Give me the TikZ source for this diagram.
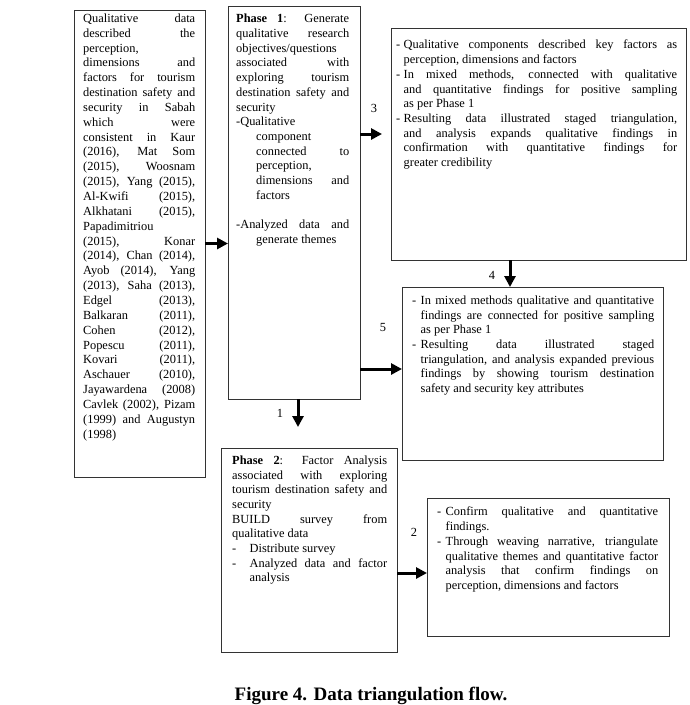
\documentclass[tikz,border=0pt]{standalone}
\usepackage{fontspec}
\setmainfont{Liberation Serif}
\usetikzlibrary{positioning,arrows.meta}
\tolerance=10000
\hbadness=10000
\hyphenpenalty=10000
\exhyphenpenalty=10000
\newcommand{\dashitem}[1]{\hangindent=#1\hangafter=1\noindent\makebox[#1][l]{-}\ignorespaces}
\newcommand{\hangpar}[1]{\hangindent=#1\hangafter=1\noindent\ignorespaces}

\begin{document}
\begin{tikzpicture}[x=1pt, y=-1pt,
		box/.style={draw=black!80, line width=1pt, inner sep=0pt, outer sep=0pt, anchor=north west},
		txt/.style={inner sep=0pt, anchor=north west, align=justify, font=\fontsize{12.4}{14.7}\selectfont},
		flow/.style={line width=3pt, -{Triangle[length=11pt,width=11pt]}},
		lbl/.style={inner sep=0pt, font=\fontsize{12.4}{14.7}\selectfont}]
		%%%%% START %%%%%
		
		\useasboundingbox (0,0) rectangle (689,705);
		
		\node[box, minimum width=131pt, minimum height=467pt] (lit) at (74,10) {};
		\node[box, minimum width=132pt, minimum height=393pt] (ph1) at (228,6) {};
		\node[box, minimum width=295pt, minimum height=232pt] (res) at (391,28) {};
		\node[box, minimum width=261pt, minimum height=173pt] (mix) at (402,287) {};
		\node[box, minimum width=176pt, minimum height=204pt] (ph2) at (221,448) {};
		\node[box, minimum width=242pt, minimum height=138pt] (conf) at (427,498) {};
		
		\node[txt, text width=112pt, font=\fontsize{12.4}{14.85}\selectfont, below right=3.5pt and 9pt of lit.north west] (litT) {Qualitative data\linebreak described the\linebreak perception,\linebreak dimensions and\linebreak factors for tourism\linebreak destination safety and\linebreak security in Sabah\linebreak which were\linebreak consistent in Kaur\linebreak (2016), Mat Som\linebreak (2015), Woosnam\linebreak (2015), Yang (2015),\linebreak Al-Kwifi (2015),\linebreak Alkhatani (2015),\linebreak Papadimitriou\linebreak (2015), Konar\linebreak (2014), Chan (2014),\linebreak Ayob (2014), Yang\linebreak (2013), Saha (2013),\linebreak Edgel (2013),\linebreak Balkaran (2011),\linebreak Cohen (2012),\linebreak Popescu (2011),\linebreak Kovari (2011),\linebreak Aschauer (2010),\linebreak Jayawardena (2008)\linebreak Cavlek (2002), Pizam\linebreak (1999) and Augustyn\linebreak (1998)\par};
		
		\node[txt, text width=113pt, below right=8pt and 8pt of ph1.north west] (ph1T) {\textbf{Phase 1}: Generate\linebreak qualitative research\linebreak objectives/questions\linebreak associated with\linebreak exploring tourism\linebreak destination safety and\linebreak security
			\par\hangpar{20pt}-Qualitative\linebreak component\linebreak connected to\linebreak perception,\linebreak dimensions and\linebreak factors
			\par\vspace{14.7pt}
			\hangpar{20pt}-Analyzed data and\linebreak generate themes\par};
		
		\node[txt, text width=281pt, below right=12pt and 5pt of res.north west] (resT) {\dashitem{7.5pt}Qualitative components described key factors as\linebreak perception, dimensions and factors
			\par\dashitem{7.5pt}In mixed methods, connected with qualitative\linebreak and quantitative findings for positive sampling\linebreak as per Phase 1
			\par\dashitem{7.5pt}Resulting data illustrated staged triangulation,\linebreak and analysis expands qualitative findings in\linebreak confirmation with quantitative findings for\linebreak greater credibility\par};
		
		\node[txt, text width=242pt, below right=8.5pt and 10pt of mix.north west] (mixT) {\dashitem{8.5pt}In mixed methods qualitative and quantitative\linebreak findings are connected for positive sampling\linebreak as per Phase 1
			\par\dashitem{8.5pt}Resulting data illustrated staged\linebreak triangulation, and analysis expanded previous\linebreak findings by showing tourism destination\linebreak safety and security key attributes\par};
		
		\node[txt, text width=155pt, below right=7.5pt and 11pt of ph2.north west] (ph2T) {\textbf{Phase 2}: Factor Analysis\linebreak associated with exploring\linebreak tourism destination safety and\linebreak security
			\par BUILD survey from\linebreak qualitative data
			\par\dashitem{17.5pt}Distribute survey
			\par\dashitem{17.5pt}Analyzed data and factor\linebreak analysis\par};
		
		\node[txt, text width=221pt, below right=9pt and 10pt of conf.north west] (confT) {\dashitem{8.5pt}Confirm qualitative and quantitative\linebreak findings.
			\par\dashitem{8.5pt}Through weaving narrative, triangulate\linebreak qualitative themes and quantitative factor\linebreak analysis that confirm findings on\linebreak perception, dimensions and factors\par};
		
		\coordinate (a3) at ([yshift=-128pt]ph1.north east);
		\draw[flow] (lit.east) -- (lit.east -| ph1.west);
		\draw[flow] (a3) -- ([xshift=-9pt]a3 -| res.west);
		\draw[flow] ([xshift=-28.5pt]res.south) -- ([xshift=-28.5pt]res.south |- mix.north);
		\draw[flow] ([yshift=4.5pt]mix.west -| ph1.east) -- ([yshift=4.5pt]mix.west);
		\draw[flow] ([xshift=4pt]ph1.south) -- ([xshift=4pt, yshift=21pt]ph1.south |- ph2.north);
		\draw[flow] ([yshift=-6pt]conf.west -| ph2.east) -- ([yshift=-6pt]conf.west);
		
		\node[lbl] (n1) at (280,413) {1};
		\node[lbl] (n2) at (414,532) {2};
		\node[lbl] (n3) at (374,108) {3};
		\node[lbl] (n4) at (492,275) {4};
		\node[lbl] (n5) at (383,327) {5};
		
		\node[inner sep=0pt, anchor=base, font=\bfseries\fontsize{19}{23}\selectfont] (cap) at (371,700) {Figure 4. Data triangulation flow.};
		
		%%%%% END %%%%%
\end{tikzpicture}
\end{document}
